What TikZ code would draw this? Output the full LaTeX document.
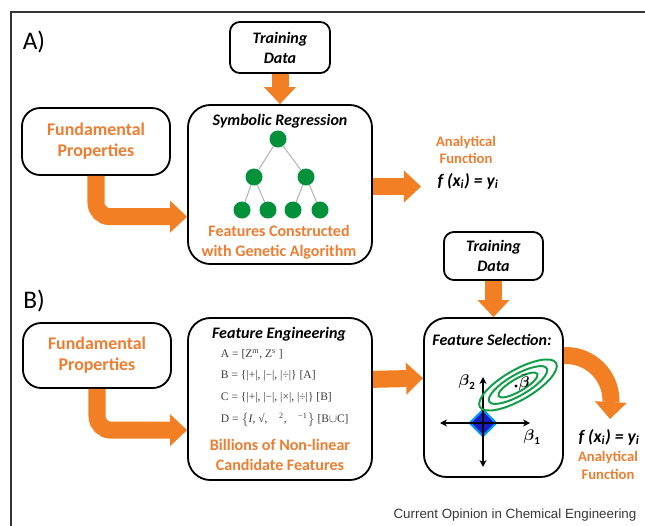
\documentclass[tikz,border=0pt]{standalone}
\usepackage{amsmath,amssymb}
\usepackage{fontspec}
\setmainfont{Carlito}
\newfontfamily\footfont{Liberation Sans}
\newfontfamily\fmlfont{Liberation Serif}
\usetikzlibrary{arrows.meta, shapes.geometric, positioning, calc}
\definecolor{ArrowOrange}{RGB}{242,127,36}
\definecolor{TextOrange}{RGB}{237,125,49}
\definecolor{TreeGreen}{RGB}{0,145,58}
\definecolor{EllGreen}{RGB}{16,158,72}
\definecolor{DiaBlue}{RGB}{24,28,196}
\definecolor{DiaEdge}{RGB}{0,150,255}
\definecolor{FormulaGray}{RGB}{60,60,60}
\definecolor{FrameGray}{RGB}{55,55,55}

\begin{document}
\begin{tikzpicture}[x=0.025cm,y=-0.025cm,
    rbox/.style={draw=black,line width=1.3pt,rounded corners=13pt,fill=white,
                 inner sep=0pt,align=center},
    blockarr/.style={draw=ArrowOrange,line width=0.425cm,
                     -{Triangle[length=0.425cm,width=0.8cm,line width=0pt]}},
    ttl/.style={font=\fontsize{11.4}{14.2}\selectfont\bfseries\itshape},
    otxt/.style={text=TextOrange,font=\fontsize{11.4}{14.2}\selectfont\bfseries,
                 align=center},
    fund/.style={text=TextOrange,font=\fontsize{12.7}{15}\selectfont\bfseries},
    outtxt/.style={text=TextOrange,font=\fontsize{10.4}{12.4}\selectfont\bfseries,
                   align=center},
    fxtxt/.style={font=\fontsize{12.5}{14}\selectfont\bfseries\itshape},
    tnode/.style={circle,fill=TreeGreen,minimum size=0.425cm,inner sep=0pt},
    tedge/.style={draw=black!30,line width=0.7pt},
    fml/.style={align=left,text=FormulaGray,font=\fmlfont\fontsize{8.2}{15.6}\selectfont},
    ell/.style={draw=EllGreen,line width=1.4pt},
    axarr/.style={line width=1.1pt,{Stealth[length=5pt,width=5pt]}-{Stealth[length=5pt,width=5pt]}},
    blbl/.style={font=\fontsize{11}{12}\selectfont},
    panel/.style={font=\fontsize{18}{20}\selectfont},
    frame/.style={draw=FrameGray,line width=1.5pt}
  ]
  \useasboundingbox (0,0) rectangle (645,526);
  \draw[frame] (645,12) -| (11,526);

  % ---- A) symbolic regression
  \node[panel] (lblA) at (34,42) {A)};
  \node[rbox,rounded corners=7pt,minimum width=2.5cm,minimum height=1.275cm,ttl]
    (tdA) at (280,47.5) {Training\\Data};
  \node[rbox,minimum width=3.7cm,minimum height=1.675cm,fund]
    (fpA) at (96,141.5) {Fundamental\\Properties};
  \node[rbox,rounded corners=16pt,minimum width=4.6cm,minimum height=3.975cm]
    (srA) at (280,184.5) {};
  \node[ttl] (srttl) at (280,121) {Symbolic Regression};
  \node[tnode] (rt) at (278,139) {};
  \node[tnode] (m1) at (254,177) {};
  \node[tnode] (m2) at (306,177) {};
  \node[tnode] (l1) at (242,210) {};
  \node[tnode] (l2) at (268,210) {};
  \node[tnode] (l3) at (293,210) {};
  \node[tnode] (l4) at (320,210) {};
  \foreach \a/\b in {rt/m1,rt/m2,m1/l1,m1/l2,m2/l3,m2/l4}
    \draw[tedge] (\a) -- (\b);
  \node[otxt] (gaA) at (279,242) {Features Constructed\\with Genetic Algorithm};
  \node[outtxt] (afA) at (466,150) {Analytical\\Function};
  \node[fxtxt] (fxA) at (468,181) {f (x\textsubscript{i}) = y\textsubscript{i}};
  \coordinate (outA) at (421,186.5);

  \draw[blockarr] (tdA.south) -- (srA.north);
  \draw[blockarr,rounded corners=0.35cm] (fpA.south)
    |- ($(srA.north west)!0.7!(srA.south west)$);
  \draw[blockarr] (srA.east |- outA) -- (outA);

  % ---- B) feature engineering + selection
  \node[panel] (lblB) at (34,301) {B)};
  \node[rbox,minimum width=3.7cm,minimum height=1.625cm,fund]
    (fpB) at (97,355.5) {Fundamental\\Properties};
  \node[rbox,rounded corners=16pt,minimum width=4.6cm,minimum height=4.05cm]
    (feB) at (280,399) {};
  \node[ttl] (fettl) at (279,334) {Feature Engineering};
  \node[fml,anchor=west] (fmls) at (216,388) {%
    A = [Z\textsuperscript{m}, Z\textsuperscript{s} ]\\
    B = \{|+|, |−|, |÷|\} [A]\\
    C = \{|+|, |−|, |×|, |÷|\} [B]\\
    D = $\bigl\{$\textit{I}, √,\quad\textsuperscript{2},\quad\textsuperscript{−1}$\bigr\}$ [B$\cup$C]};
  \node[otxt] (bnB) at (280,455) {Billions of Non-linear\\Candidate Features};

  \node[rbox,rounded corners=7pt,minimum width=2.475cm,minimum height=1.2cm,ttl]
    (tdB) at (493.5,256) {Training\\Data};
  \node[rbox,rounded corners=16pt,minimum width=3.475cm,minimum height=3.975cm]
    (fsB) at (493.5,397.5) {};
  \node[ttl] (fsttl) at (492,340) {Feature Selection:};

  % lasso picture
  \node[diamond,fill=DiaBlue,draw=DiaEdge,line width=1.6pt,minimum size=0.68cm,
        inner sep=0pt] (lasso) at (483,423) {};
  \coordinate (b1l) at (440,423);
  \coordinate (b1r) at (530,423);
  \coordinate (b2t) at (483,377);
  \coordinate (b2b) at (483,467);
  \draw[axarr] (b1l) -- (b1r);
  \draw[axarr] (b2b) -- (b2t);
  \coordinate (bhat) at (518,385);
  \foreach \ra/\rb in {1.1/0.375,0.83/0.26,0.56/0.16}
    \draw[ell,rotate around={30:(bhat)}] (bhat) ellipse [x radius=\ra cm,y radius=\rb cm];
  \coordinate (bdot) at (516,386);
  \fill (bdot) circle (1.2pt);
  \node[blbl,anchor=west,inner sep=0.5pt] (bbar) at (518,383) {$\bar{\boldsymbol{\beta}}$};
  \node[blbl] (lb2) at (467,382) {$\boldsymbol{\beta}_{\mathbf{2}}$};
  \node[blbl] (lb1) at (532,437) {$\boldsymbol{\beta}_{\mathbf{1}}$};

  \node[fxtxt] (fxB) at (609,437) {f (x\textsubscript{i}) = y\textsubscript{i}};
  \node[outtxt] (afB) at (608,465.5) {Analytical\\Function};
  \coordinate (outB) at (610,419);

  \draw[blockarr] (tdB.south) -- (fsB.north);
  \draw[blockarr,rounded corners=0.35cm] (fpB.south)
    |- ($(feB.north west)!0.69!(feB.south west)$);
  \draw[blockarr] ($(feB.north east)!0.38!(feB.south east)$)
    -- ($(fsB.north west)!0.38!(fsB.south west)$);
  \draw[blockarr] ($(fsB.north east)!0.239!(fsB.south east)$) -- ++(0.05cm,0)
    arc[start angle=90,end angle=0,radius=1.125cm] -- (outB);

  \node[font=\footfont\fontsize{9.5}{11}\selectfont,text=FrameGray] (src)
    at (515,515) {Current Opinion in Chemical Engineering};
\end{tikzpicture}
\end{document}
